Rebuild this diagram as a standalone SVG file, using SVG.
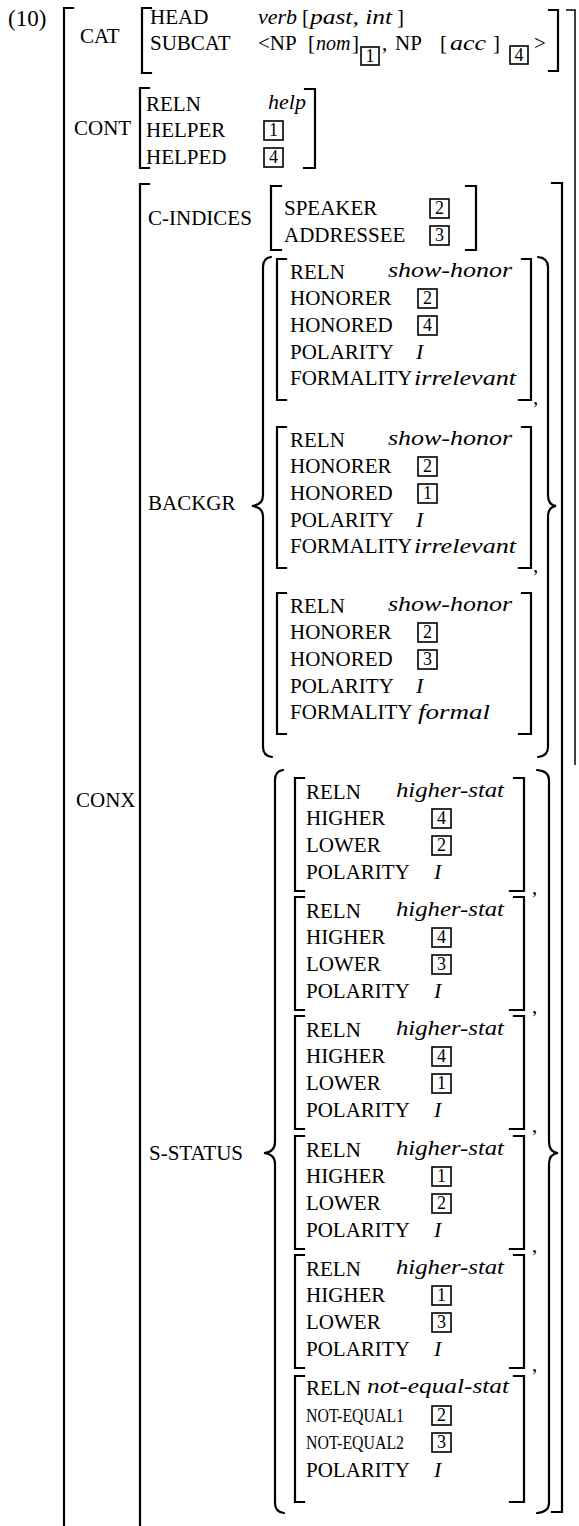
<svg xmlns="http://www.w3.org/2000/svg" width="579" height="1526" viewBox="0 0 579 1526" font-family="'Liberation Serif', 'Times New Roman', serif">
<style>
text{font-family:"Liberation Serif","Times New Roman",serif;fill:#000}
.t{font-family:"Liberation Serif",serif;font-size:21px}
.s{font-family:"Liberation Serif",serif;font-size:19px}
.i{font-family:"Liberation Serif",serif;font-size:22px;font-style:italic}
.n{font-family:"Liberation Serif",serif;font-size:18px;text-anchor:middle}
.br{fill:none;stroke:#000;stroke-width:2.2;stroke-linecap:square}
.thin{fill:none;stroke:#000;stroke-width:1.5}
.bx{fill:none;stroke:#000;stroke-width:1.6}
.brace{fill:none;stroke:#000;stroke-width:2.2;stroke-linecap:round}
</style>
<rect width="579" height="1526" fill="#fff"/>

<g id="outer">
<text class="t" x="8" y="26" style="font-size:23px">(10)</text>
<path class="br" d="M73 8H64V1526"/>
<path class="thin" d="M566 10H575V765"/>
</g>

<g id="cat">
<text class="t" x="80" y="43">CAT</text>
<path class="br" d="M151 8H142V73H151"/>
<path class="br" d="M549 10H558V71H549"/>
<text class="t" x="150" y="24">HEAD</text>
<text class="i" x="258" y="24">verb</text>
<text class="t" x="302" y="24">[</text>
<text class="i" x="310" y="24" textLength="82" lengthAdjust="spacingAndGlyphs">past, int</text>
<text class="t" x="397" y="24">]</text>
<text class="t" x="150" y="50">SUBCAT</text>
<text class="t" x="258" y="50">&lt;NP</text>
<text class="t" x="308" y="50">[</text>
<text class="i" x="316" y="50" style="font-size:20px">nom</text>
<text class="t" x="352" y="50">]</text>
<rect class="bx" x="361" y="47" width="18" height="18"/>
<text class="n" x="370" y="62">1</text>
<text class="t" x="382" y="50">,</text>
<text class="t" x="395" y="50">NP</text>
<text class="t" x="440" y="50">[</text>
<text class="i" x="450" y="50" textLength="36" lengthAdjust="spacingAndGlyphs">acc</text>
<text class="t" x="493" y="50">]</text>
<rect class="bx" x="510" y="46" width="18" height="18"/>
<text class="n" x="519" y="61">4</text>
<text class="t" x="534" y="50">&gt;</text>
</g>

<g id="cont">
<text class="t" x="74" y="135">CONT</text>
<path class="br" d="M149 88H140V168H149"/>
<path class="br" d="M305 89H315V168H304"/>
<text class="t" x="146" y="111">RELN</text>
<text class="i" x="268" y="109">help</text>
<text class="t" x="146" y="137">HELPER</text>
<rect class="bx" x="264" y="121" width="19" height="19"/>
<text class="n" x="273.5" y="136">1</text>
<text class="t" x="146" y="164">HELPED</text>
<rect class="bx" x="264" y="148" width="19" height="19"/>
<text class="n" x="273.5" y="163">4</text>
</g>

<g id="conx">
<text class="t" x="76" y="807">CONX</text>
<path class="br" d="M149 184H140V1526"/>
<path class="br" d="M552 183H562V1512H552"/>
</g>

<g id="c-indices">
<text class="t" x="148" y="225">C-INDICES</text>
<path class="br" d="M281 186H271V250H281"/>
<path class="br" d="M466 186H476V250H466"/>
<text class="t" x="284" y="215">SPEAKER</text>
<rect class="bx" x="430" y="199" width="19" height="19"/>
<text class="n" x="439.5" y="214">2</text>
<text class="t" x="284" y="242">ADDRESSEE</text>
<rect class="bx" x="430" y="226" width="19" height="19"/>
<text class="n" x="439.5" y="241">3</text>
</g>

<g id="backgr">
<text class="t" x="148" y="510">BACKGR</text>
<path class="brace" d="M271 257Q263 258 263 267L263 495Q263 505 252 506Q263 507 263 517L263 747Q263 756 272 757"/>
<path class="brace" d="M538 257Q548 258 548 267L548 495Q548 505 556 506Q548 507 548 517L548 747Q548 756 538 757"/>

<g id="backgr-1">
<path class="br" d="M286 259H277V400H286"/>
<path class="br" d="M522 259H531V400H519"/>
<text class="t" x="533" y="404">,</text>
<text class="t" x="290" y="279">RELN</text>
<text class="i" x="388" y="277" textLength="124" lengthAdjust="spacingAndGlyphs">show-honor</text>
<text class="t" x="290" y="305">HONORER</text>
<rect class="bx" x="418" y="289" width="19" height="19"/>
<text class="n" x="427.5" y="304">2</text>
<text class="t" x="290" y="332">HONORED</text>
<rect class="bx" x="418" y="316" width="19" height="19"/>
<text class="n" x="427.5" y="331">4</text>
<text class="t" x="290" y="359">POLARITY</text>
<text class="i" x="416" y="359">I</text>
<text class="t" x="290" y="385">FORMALITY</text>
<text class="i" x="414" y="385" textLength="102" lengthAdjust="spacingAndGlyphs">irrelevant</text>
</g>

<g id="backgr-2">
<path class="br" d="M286 427H277V568H286"/>
<path class="br" d="M522 427H531V568H519"/>
<text class="t" x="533" y="572">,</text>
<text class="t" x="290" y="447">RELN</text>
<text class="i" x="388" y="445" textLength="124" lengthAdjust="spacingAndGlyphs">show-honor</text>
<text class="t" x="290" y="473">HONORER</text>
<rect class="bx" x="418" y="457" width="19" height="19"/>
<text class="n" x="427.5" y="472">2</text>
<text class="t" x="290" y="500">HONORED</text>
<rect class="bx" x="418" y="484" width="19" height="19"/>
<text class="n" x="427.5" y="499">1</text>
<text class="t" x="290" y="527">POLARITY</text>
<text class="i" x="416" y="527">I</text>
<text class="t" x="290" y="553">FORMALITY</text>
<text class="i" x="414" y="553" textLength="102" lengthAdjust="spacingAndGlyphs">irrelevant</text>
</g>

<g id="backgr-3">
<path class="br" d="M286 593H277V734H286"/>
<path class="br" d="M522 593H531V734H519"/>
<text class="t" x="290" y="613">RELN</text>
<text class="i" x="388" y="611" textLength="124" lengthAdjust="spacingAndGlyphs">show-honor</text>
<text class="t" x="290" y="639">HONORER</text>
<rect class="bx" x="418" y="623" width="19" height="19"/>
<text class="n" x="427.5" y="638">2</text>
<text class="t" x="290" y="666">HONORED</text>
<rect class="bx" x="418" y="650" width="19" height="19"/>
<text class="n" x="427.5" y="665">3</text>
<text class="t" x="290" y="693">POLARITY</text>
<text class="i" x="416" y="693">I</text>
<text class="t" x="290" y="719">FORMALITY</text>
<text class="i" x="418" y="719" textLength="72" lengthAdjust="spacingAndGlyphs">formal</text>
</g>
</g>

<g id="s-status">
<text class="t" x="149" y="1160">S-STATUS</text>
<path class="brace" d="M283 770Q275 771 275 780L275 1142Q275 1152 264 1153Q275 1154 275 1164L275 1503Q275 1512 284 1513"/>
<path class="brace" d="M537 770Q549 771 549 780L549 1142Q549 1152 558 1153Q549 1154 549 1164L549 1503Q549 1512 537 1513"/>

<g id="s-status-1">
<path class="br" d="M304 778H295V891H304"/>
<path class="br" d="M514 778H524V891H510"/>
<text class="t" x="532" y="894">,</text>
<text class="t" x="306" y="799">RELN</text>
<text class="i" x="396" y="797" textLength="108" lengthAdjust="spacingAndGlyphs">higher-stat</text>
<text class="t" x="306" y="825">HIGHER</text>
<rect class="bx" x="432" y="809" width="19" height="19"/>
<text class="n" x="441.5" y="824">4</text>
<text class="t" x="306" y="852">LOWER</text>
<rect class="bx" x="432" y="836" width="19" height="19"/>
<text class="n" x="441.5" y="851">2</text>
<text class="t" x="306" y="879">POLARITY</text>
<text class="i" x="434" y="879">I</text>
</g>

<g id="s-status-2">
<path class="br" d="M304 897H295V1010H304"/>
<path class="br" d="M514 897H524V1010H510"/>
<text class="t" x="532" y="1013">,</text>
<text class="t" x="306" y="918">RELN</text>
<text class="i" x="396" y="916" textLength="108" lengthAdjust="spacingAndGlyphs">higher-stat</text>
<text class="t" x="306" y="944">HIGHER</text>
<rect class="bx" x="432" y="928" width="19" height="19"/>
<text class="n" x="441.5" y="943">4</text>
<text class="t" x="306" y="971">LOWER</text>
<rect class="bx" x="432" y="955" width="19" height="19"/>
<text class="n" x="441.5" y="970">3</text>
<text class="t" x="306" y="998">POLARITY</text>
<text class="i" x="434" y="998">I</text>
</g>

<g id="s-status-3">
<path class="br" d="M304 1016H295V1129H304"/>
<path class="br" d="M514 1016H524V1129H510"/>
<text class="t" x="532" y="1132">,</text>
<text class="t" x="306" y="1037">RELN</text>
<text class="i" x="396" y="1035" textLength="108" lengthAdjust="spacingAndGlyphs">higher-stat</text>
<text class="t" x="306" y="1063">HIGHER</text>
<rect class="bx" x="432" y="1047" width="19" height="19"/>
<text class="n" x="441.5" y="1062">4</text>
<text class="t" x="306" y="1090">LOWER</text>
<rect class="bx" x="432" y="1074" width="19" height="19"/>
<text class="n" x="441.5" y="1089">1</text>
<text class="t" x="306" y="1117">POLARITY</text>
<text class="i" x="434" y="1117">I</text>
</g>

<g id="s-status-4">
<path class="br" d="M304 1136H295V1249H304"/>
<path class="br" d="M514 1136H524V1249H510"/>
<text class="t" x="532" y="1252">,</text>
<text class="t" x="306" y="1157">RELN</text>
<text class="i" x="396" y="1155" textLength="108" lengthAdjust="spacingAndGlyphs">higher-stat</text>
<text class="t" x="306" y="1183">HIGHER</text>
<rect class="bx" x="432" y="1167" width="19" height="19"/>
<text class="n" x="441.5" y="1182">1</text>
<text class="t" x="306" y="1210">LOWER</text>
<rect class="bx" x="432" y="1194" width="19" height="19"/>
<text class="n" x="441.5" y="1209">2</text>
<text class="t" x="306" y="1237">POLARITY</text>
<text class="i" x="434" y="1237">I</text>
</g>

<g id="s-status-5">
<path class="br" d="M304 1255H295V1368H304"/>
<path class="br" d="M514 1255H524V1368H510"/>
<text class="t" x="532" y="1371">,</text>
<text class="t" x="306" y="1276">RELN</text>
<text class="i" x="396" y="1274" textLength="108" lengthAdjust="spacingAndGlyphs">higher-stat</text>
<text class="t" x="306" y="1302">HIGHER</text>
<rect class="bx" x="432" y="1286" width="19" height="19"/>
<text class="n" x="441.5" y="1301">1</text>
<text class="t" x="306" y="1329">LOWER</text>
<rect class="bx" x="432" y="1313" width="19" height="19"/>
<text class="n" x="441.5" y="1328">3</text>
<text class="t" x="306" y="1356">POLARITY</text>
<text class="i" x="434" y="1356">I</text>
</g>

<g id="s-status-6">
<path class="br" d="M304 1376H295V1502H304"/>
<path class="br" d="M514 1376H524V1502H510"/>
<text class="t" x="306" y="1395">RELN</text>
<text class="i" x="367" y="1393" textLength="142" lengthAdjust="spacingAndGlyphs">not-equal-stat</text>
<text class="s" x="306" y="1422" textLength="98" lengthAdjust="spacingAndGlyphs">NOT-EQUAL1</text>
<rect class="bx" x="432" y="1406" width="19" height="19"/>
<text class="n" x="441.5" y="1421">2</text>
<text class="s" x="306" y="1449" textLength="98" lengthAdjust="spacingAndGlyphs">NOT-EQUAL2</text>
<rect class="bx" x="432" y="1433" width="19" height="19"/>
<text class="n" x="441.5" y="1448">3</text>
<text class="t" x="306" y="1477">POLARITY</text>
<text class="i" x="434" y="1477">I</text>
</g>
</g>
</svg>
